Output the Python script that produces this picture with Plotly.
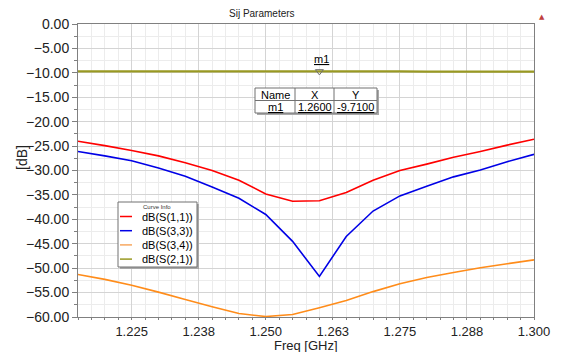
import plotly.graph_objects as go

freq = [1.215, 1.220, 1.225, 1.230, 1.235, 1.240, 1.245, 1.250, 1.255,
        1.260, 1.265, 1.270, 1.275, 1.280, 1.285, 1.290, 1.295, 1.300]
s11 = [-24.0, -24.9, -25.9, -27.0, -28.4, -30.0, -32.0, -34.8, -36.3,
       -36.2, -34.5, -32.0, -30.0, -28.7, -27.3, -26.1, -24.8, -23.6]
s33 = [-26.1, -27.0, -28.0, -29.5, -31.2, -33.4, -35.7, -39.0, -44.5,
       -51.7, -43.5, -38.3, -35.2, -33.2, -31.3, -29.9, -28.2, -26.7]
s34 = [-51.3, -52.3, -53.5, -54.9, -56.4, -57.9, -59.3, -59.9, -59.5,
       -58.1, -56.6, -54.8, -53.2, -51.9, -50.9, -49.9, -49.1, -48.3]
s21 = [-9.71, -9.71, -9.71, -9.71, -9.71, -9.71, -9.71, -9.71, -9.71,
       -9.71, -9.71, -9.71, -9.71, -9.77, -9.77, -9.77, -9.77, -9.77]

names = ["dB(S(1,1))", "dB(S(3,3))", "dB(S(3,4))", "dB(S(2,1))"]
colors = ["#ff0000", "#0000e6", "#ff8c1a", "#999922"]
legend_colors = ["#ff0000", "#0000e6", "#f7a860", "#999922"]
widths = [1.6, 1.6, 1.6, 2.2]
series = [s11, s33, s34, s21]

x_tickvals = [1.225, 1.2375, 1.25, 1.2625, 1.275, 1.2875, 1.3]
x_ticktext = ["1.225", "1.238", "1.250", "1.263", "1.275", "1.288", "1.300"]

marker_name = "m1"
marker_x = 1.26
marker_y = -9.71

W, H = 565, 352
L, R, T, B = 78, 31, 24, 35
X0, X1 = 1.215, 1.300
Y0, Y1 = -60.0, 0.0
pw, ph = W - L - R, H - T - B


def px_(px):
    return (px - L) / pw


def py_(py):
    return (H - B - py) / ph


FONT = "Liberation Sans, Arial, sans-serif"
GRAY = "#707070"

fig = go.Figure()
for name, col, wd, ys in zip(names, colors, widths, series):
    fig.add_trace(go.Scatter(x=freq, y=ys, mode="lines", name=name,
                             line=dict(color=col, width=wd, simplify=False),
                             showlegend=False, hoverinfo="x+y"))

fig.add_trace(go.Scatter(x=[marker_x], y=[marker_y], mode="markers",
                         marker=dict(symbol="triangle-down-open", size=7,
                                     color=GRAY, line=dict(width=1)),
                         showlegend=False, hoverinfo="skip"))

shapes = []
annotations = []


def rect(x0, y0, x1, y1, **kw):
    shapes.append(dict(type="rect", xref="paper", yref="paper",
                       x0=px_(x0), x1=px_(x1), y0=py_(y0), y1=py_(y1), layer="above", **kw))


def hline(x0, x1, y, color=GRAY, width=1):
    shapes.append(dict(type="line", xref="paper", yref="paper", x0=px_(x0), x1=px_(x1),
                       y0=py_(y), y1=py_(y), line=dict(color=color, width=width), layer="above"))


def vline(x, y0, y1, color=GRAY, width=1):
    shapes.append(dict(type="line", xref="paper", yref="paper", x0=px_(x), x1=px_(x),
                       y0=py_(y0), y1=py_(y1), line=dict(color=color, width=width), layer="above"))


def text(x, y, s, size=11, color="#000", xanchor="center", **kw):
    annotations.append(dict(x=px_(x), y=py_(y), xref="paper", yref="paper", text=s,
                            xanchor=xanchor, yanchor="middle", showarrow=False,
                            font=dict(family=FONT, size=size, color=color), **kw))


# marker label
annotations.append(dict(x=marker_x, y=marker_y, xref="x", yref="y",
                        text="<u>" + marker_name + "</u>", showarrow=False,
                        yshift=12, xshift=2, font=dict(family=FONT, size=11, color="#000")))

# marker table
tx0, tx1, ty0, ty1 = 255, 377, 88, 113
rect(tx0 + 2, ty0 + 2, tx1 + 2, ty1 + 2, fillcolor="#a8a8a8", line=dict(width=0))
rect(tx0, ty0, tx1, ty1, fillcolor="#ffffff", line=dict(color=GRAY, width=1))
hline(tx0, tx1, 100.5)
vline(295, ty0, ty1)
vline(334, ty0, ty1)
hdr = ["Name", "X", "Y"]
row = ["<u>" + marker_name + "</u>", "<u>%.4f</u>" % marker_x, "<u>%.4f</u>" % marker_y]
for cx, h, r in zip((275, 314.5, 355.5), hdr, row):
    text(cx, 94.5, h)
    text(cx, 107, r)

# legend box
lx0, lx1, ly0, ly1 = 118, 197, 202, 267
rect(lx0 + 2, ly0 + 2, lx1 + 2, ly1 + 2, fillcolor="#a8a8a8", line=dict(width=0))
rect(lx0, ly0, lx1, ly1, fillcolor="#ffffff", line=dict(color=GRAY, width=1))
text(157, 206.5, "Curve Info", size=6, color="#333")
for i, (name, col) in enumerate(zip(names, legend_colors)):
    yy = 216.5 + i * 14.2
    hline(120, 132, yy, color=col, width=1.5)
    text(140, yy, name, xanchor="left")

# title, axis titles, corner icon
text(262, 13, "Sij Parameters", size=10, color="#222")
text(22, 158, "[dB]", size=14, color="#222", textangle=-90)
text(306, 345, "Freq [GHz]", size=13, color="#222")
annotations.append(dict(x=px_(547), y=py_(11), xref="paper", yref="paper",
                        text="▲", showarrow=False,
                        font=dict(family="DejaVu Sans", size=7, color="#c04040")))

fig.update_layout(
    width=W, height=H,
    margin=dict(l=L, r=R, t=T, b=B, autoexpand=False),
    paper_bgcolor="#ffffff", plot_bgcolor="#ffffff",
    showlegend=False,
    shapes=shapes, annotations=annotations,
    font=dict(family=FONT, size=14, color="#222"),
    xaxis=dict(range=[X0, X1], tickmode="array", tickvals=x_tickvals, ticktext=x_ticktext,
               automargin=False,
               showline=True, mirror=True, linecolor="#808080", linewidth=1,
               showgrid=True, gridcolor="#d4d4d4", gridwidth=1, zeroline=False,
               ticks="outside", ticklen=2, tickcolor="#808080",
               tickfont=dict(family=FONT, size=13, color="#222"),
               minor=dict(tick0=1.2125, dtick=0.0025, showgrid=True, gridcolor="#ececec",
                          ticks="outside", ticklen=2, tickcolor="#808080")),
    yaxis=dict(range=[Y0, Y1], dtick=5, tick0=0, tickformat=".2f",
               automargin=False,
               showline=True, mirror=True, linecolor="#808080", linewidth=1,
               showgrid=True, gridcolor="#d4d4d4", gridwidth=1, zeroline=False,
               ticks="outside", ticklen=5, tickcolor="#808080",
               tickfont=dict(family=FONT, size=14, color="#222"),
               minor=dict(dtick=2.5, showgrid=True, gridcolor="#ececec",
                          ticks="outside", ticklen=3, tickcolor="#808080")),
)

fig.write_html("out.html", config={"displayModeBar": False},
               post_script="document.body.style.margin='0';document.body.style.padding='0';")
